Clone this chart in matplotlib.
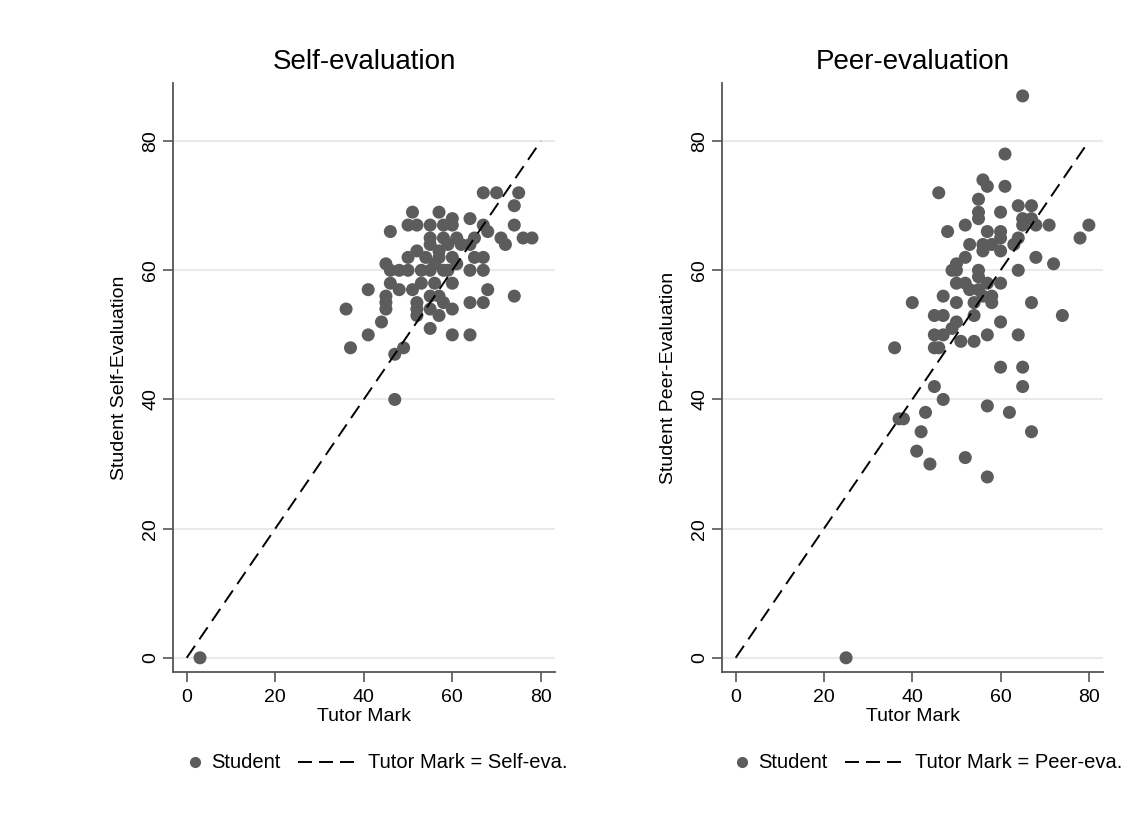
import matplotlib
matplotlib.use("Agg")
import matplotlib.pyplot as plt
from matplotlib.lines import Line2D

plt.rcParams['font.family'] = ['Liberation Sans', 'DejaVu Sans']

# ---- data ----
self_tutor = [67, 70, 75, 74, 51, 57, 64, 60, 50, 52, 55, 58, 60, 67, 68, 74, 46, 76, 78, 71,
              72, 55, 58, 61, 65, 55, 59, 62, 64, 52, 57, 50, 54, 57, 60, 65, 67, 45, 46, 48,
              50, 53, 55, 58, 59, 64, 67, 56, 61, 46, 48, 51, 53, 56, 60, 68, 41, 45, 45, 45,
              52, 55, 57, 58, 64, 67, 74, 36, 52, 55, 57, 60, 52, 44, 55, 41, 60, 64, 37, 49,
              47, 47, 3]
self_eval = [72, 72, 72, 70, 69, 69, 68, 68, 67, 67, 67, 67, 67, 67, 66, 67, 66, 65, 65, 65,
             64, 65, 65, 65, 65, 64, 64, 64, 64, 63, 63, 62, 62, 62, 62, 62, 62, 61, 60, 60,
             60, 60, 60, 60, 60, 60, 60, 61, 61, 58, 57, 57, 58, 58, 58, 57, 57, 56, 55, 54,
             55, 56, 56, 55, 55, 55, 56, 54, 53, 54, 53, 54, 54, 52, 51, 50, 50, 50, 48, 48,
             47, 40, 0]

peer_tutor = [65, 61, 46, 56, 57, 61, 55, 55, 55, 60, 64, 67, 65, 67, 65, 68, 71, 80, 78, 48,
              52, 57, 60, 60, 64, 63, 53, 56, 58, 56, 60, 68, 72, 52, 50, 49, 50, 55, 64, 50,
              52, 55, 57, 60, 53, 55, 56, 58, 54, 58, 40, 47, 50, 67, 74, 45, 47, 50, 54, 60,
              49, 45, 47, 51, 54, 57, 64, 36, 45, 46, 60, 65, 65, 45, 47, 57, 62, 43, 37, 38,
              42, 67, 41, 44, 52, 57, 25]
peer_eval = [87, 78, 72, 74, 73, 73, 71, 69, 68, 69, 70, 70, 68, 68, 67, 67, 67, 67, 65, 66,
             67, 66, 66, 65, 65, 64, 64, 64, 64, 63, 63, 62, 61, 62, 61, 60, 60, 60, 60, 58,
             58, 59, 58, 58, 57, 57, 56, 56, 55, 55, 55, 56, 55, 55, 53, 53, 53, 52, 53, 52,
             51, 50, 50, 49, 49, 50, 50, 48, 48, 48, 45, 45, 42, 42, 40, 39, 38, 38, 37, 37,
             35, 35, 32, 30, 31, 28, 0]

ref_line = [0, 80]
ticks = [0, 20, 40, 60, 80]

panels = [
    ("Self-evaluation", "Student Self-Evaluation", "Tutor Mark = Self-eva.", self_tutor, self_eval),
    ("Peer-evaluation", "Student Peer-Evaluation", "Tutor Mark = Peer-eva.", peer_tutor, peer_eval),
]

W, H = 1136, 834
fig = plt.figure(figsize=(W / 100, H / 100), dpi=100)
fig.patch.set_facecolor('white')

axes_px = [(173, 555), (722, 1103)]
legend_x0 = [195, 742]   # marker centre (pixels) of each panel's legend
legend_y = 762
top_px, bot_px = 83, 672

dot_color = '#5c5c5c'
spine_color = '#555555'
LW = 1.4
DASH = (7.5, 4)

# overlay in pixel units for the legends
lay = fig.add_axes([0, 0, 1, 1], zorder=-1)
lay.set_xlim(0, W)
lay.set_ylim(H, 0)
lay.axis('off')

for (title, ylab, reflab, xs, ys), (l, r), lx in zip(panels, axes_px, legend_x0):
    ax = fig.add_axes([l / W, 1 - bot_px / H, (r - l) / W, (bot_px - top_px) / H])
    ax.set_xlim(-3.1, 83.2)
    ax.set_ylim(-2.2, 89)
    ax.set_yticks(ticks)
    ax.set_xticks(ticks)
    ax.grid(axis='y', color='#eaeaea', linewidth=1.5, zorder=0)
    ax.set_axisbelow(True)
    for s in ['top', 'right']:
        ax.spines[s].set_visible(False)
    for s in ['left', 'bottom']:
        ax.spines[s].set_color(spine_color)
        ax.spines[s].set_linewidth(1.3)
    ax.tick_params(axis='both', direction='out', length=7, width=1.2, color=spine_color,
                   labelsize=14)
    ax.tick_params(axis='y', pad=3)
    ax.tick_params(axis='x', pad=5)
    for lab in ax.get_yticklabels():
        lab.set_rotation(90)
        lab.set_va('center')
    ax.scatter(xs, ys, s=88, color=dot_color, edgecolors='none', zorder=3)
    ax.plot(ref_line, ref_line, color='black', linewidth=LW, dashes=DASH, zorder=4)
    ax.set_title(title, fontsize=20, pad=10)
    ax.set_xlabel("Tutor Mark", fontsize=14, labelpad=2)
    ax.set_ylabel(ylab, fontsize=14, labelpad=10)

    # legend (drawn in pixel layout units)
    lay.plot([lx], [legend_y], marker='o', markersize=7, color=dot_color, linestyle='none')
    lay.text(lx + 16, legend_y, "Student", fontsize=14.5, va='center', ha='left')
    lay.plot([lx + 103, lx + 160], [legend_y, legend_y], color='black', linewidth=LW,
             dashes=(7.2, 3.6))
    lay.text(lx + 173, legend_y, reflab, fontsize=14.5, va='center', ha='left')

fig.savefig("out.png", dpi=100, facecolor='white')
